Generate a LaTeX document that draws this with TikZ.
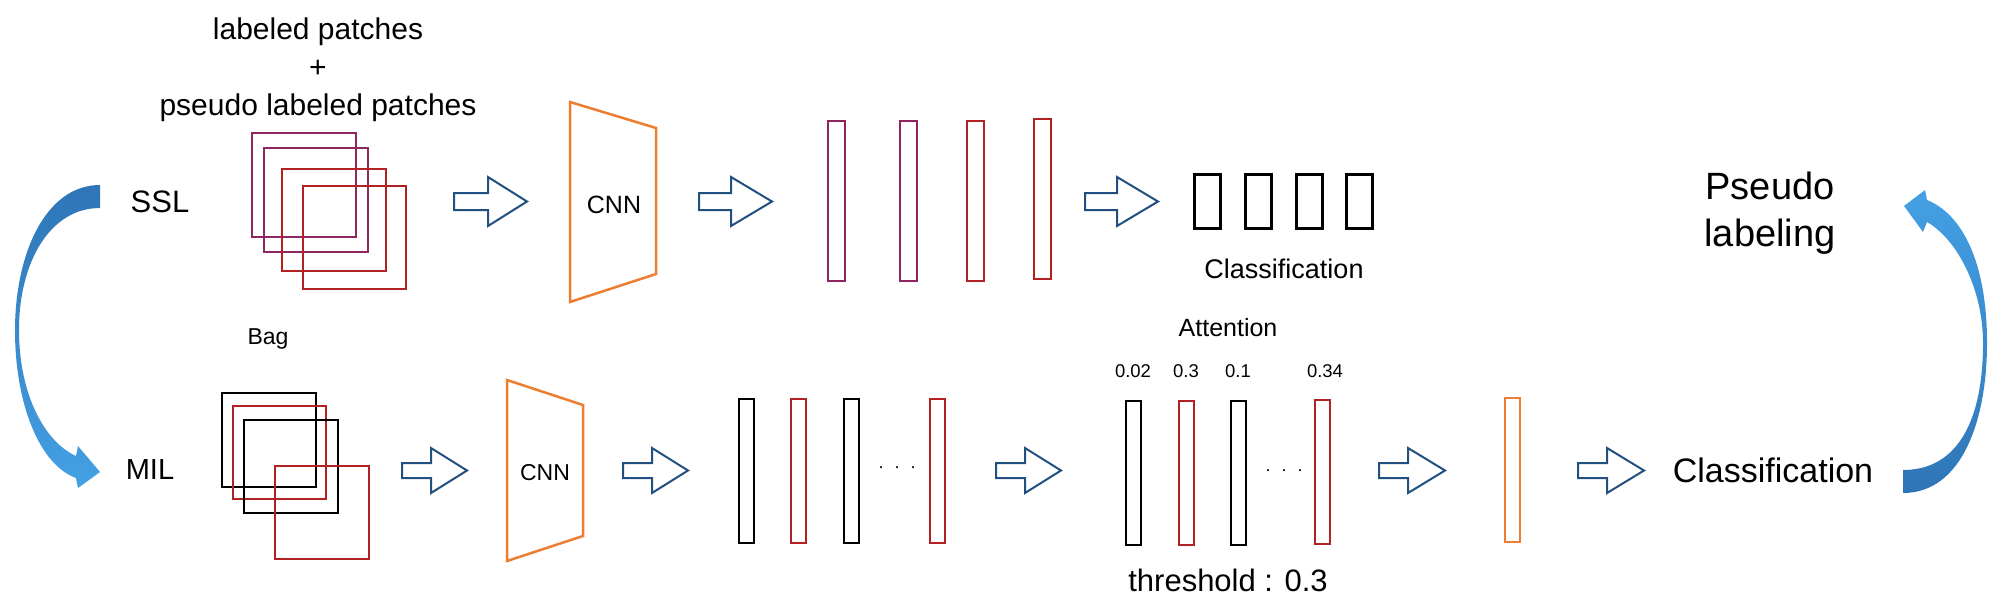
\documentclass[tikz,border=0pt]{standalone}
\usepackage{fontspec}
\setmainfont{Liberation Sans}
\definecolor{purpleR}{RGB}{143,38,96}
\definecolor{redR}{RGB}{178,34,34}
\definecolor{orangeC}{RGB}{237,125,49}
\definecolor{arrowblue}{RGB}{33,80,128}
\definecolor{cdark}{RGB}{46,117,182}
\definecolor{clight}{RGB}{68,160,228}
\newcommand{\harr}[6]{% x0, xb, xt, yc, shaft half, head half
  \draw[hollow] ({#1},{#4-#5}) -- ({#2},{#4-#5}) -- ({#2},{#4-#6}) -- ({#3},{#4})
    -- ({#2},{#4+#6}) -- ({#2},{#4+#5}) -- ({#1},{#4+#5}) -- cycle;}
\newcommand{\fs}[1]{\fontsize{#1}{#1}\selectfont}
\begin{document}
\begin{tikzpicture}[x=1pt,y=-1pt,
  hollow/.style={draw=arrowblue, line width=2pt, fill=white, line join=miter},
  bar/.style={line width=2.5pt},
  box/.style={line width=3pt, draw=black},
  cnn/.style={draw=orangeC, line width=2.5pt, line join=miter},
  txt/.style={inner sep=0pt, text=black}]
\useasboundingbox (0,0) rectangle (1999,606);

% ---------- texts ----------
\node[txt, align=center, font=\fontsize{30}{38}\selectfont] (lp) at (318,70) {labeled patches\\+\\pseudo labeled patches};
\node[txt, font=\fs{31}] (ssl) at (160,202) {SSL};
\node[txt, font=\fs{29}] (mil) at (150,470) {MIL};
\node[txt, font=\fs{23}] (bag) at (268,339) {Bag};
\node[txt, font=\fs{25}] (cnn1t) at (614,205) {CNN};
\node[txt, font=\fs{23}] (cnn2t) at (545,473) {CNN};
\node[txt, font=\fs{27}] (cls1) at (1284,269) {Classification};
\node[txt, font=\fs{25}] (att) at (1228,328) {Attention};
\node[txt, font=\fs{18.5}] (n1) at (1133,371) {0.02};
\node[txt, font=\fs{18.5}] (n2) at (1186,371) {0.3};
\node[txt, font=\fs{18.5}] (n3) at (1238,371) {0.1};
\node[txt, font=\fs{18.5}] (n4) at (1325,371) {0.34};
\node[txt, font=\fs{31}] (thr) at (1228,580) {threshold : 0.3};
\node[txt, font=\fs{34}] (cls2) at (1773,470) {Classification};
\node[txt, align=center, font=\fontsize{38}{47}\selectfont] (pl) at (1770,213) {Pseudo\\labeling};
\node[txt, font=\fs{18}] (dots1) at (897,470) {·\hspace{10pt}·\hspace{10pt}·};
\node[txt, font=\fs{18}] (dots2) at (1284,473) {·\hspace{10pt}·\hspace{10pt}·};

% ---------- SSL patches ----------
\draw[bar, purpleR] (252,133) rectangle (356,237);
\draw[bar, purpleR] (264,148) rectangle (368,252);
\draw[bar, redR] (282,169) rectangle (386,271);
\draw[bar, redR] (303,186) rectangle (406,289);

% ---------- MIL bag ----------
\draw[bar, black] (222,393) rectangle (316,487);
\draw[bar, redR] (233,406) rectangle (326,499);
\draw[bar, black] (244,420) rectangle (338,513);
\draw[bar, redR] (275,466) rectangle (369,559);

% ---------- CNNs ----------
\draw[cnn] (570,102) -- (656,128) -- (656,274) -- (570,302) -- cycle;
\draw[cnn] (507,380) -- (583,405) -- (583,536) -- (507,561) -- cycle;

% ---------- feature bars top ----------
\draw[bar, purpleR] (828,121) rectangle (845,281);
\draw[bar, purpleR] (900,121) rectangle (917,281);
\draw[bar, redR] (967,121) rectangle (984,281);
\draw[bar, redR] (1034,119) rectangle (1051,279);

% ---------- classification boxes ----------
\draw[box] (1194,174) rectangle (1220,228);
\draw[box] (1245,174) rectangle (1271,228);
\draw[box] (1296,174) rectangle (1322,228);
\draw[box] (1346,174) rectangle (1372,228);

% ---------- bottom bars ----------
\draw[bar, black] (739,399) rectangle (754,543);
\draw[bar, redR] (791,399) rectangle (806,543);
\draw[bar, black] (844,399) rectangle (859,543);
\draw[bar, redR] (930,399) rectangle (945,543);

\draw[bar, black] (1126,401) rectangle (1141,545);
\draw[bar, redR] (1179,401) rectangle (1194,545);
\draw[bar, black] (1231,401) rectangle (1246,545);
\draw[bar, redR] (1315,400) rectangle (1330,544);

\draw[bar, orangeC] (1505,398) rectangle (1520,542);

% ---------- hollow arrows ----------
\harr{454}{488}{527}{201.5}{8.5}{24.5}
\harr{699}{731}{772}{201.5}{8.5}{24.5}
\harr{1085}{1117}{1158}{201.5}{8.5}{24.5}
\harr{402}{431}{467}{470.5}{7.5}{22.5}
\harr{623}{652}{688}{470.5}{7.5}{22.5}
\harr{996}{1025}{1061}{470.5}{7.5}{22.5}
\harr{1379}{1408}{1445}{470.5}{7.5}{22.5}
\harr{1578}{1607}{1644}{470.5}{7.5}{22.5}

% ---------- curved arrows ----------
\shade[top color=cdark, bottom color=clight]
  (100,185) .. controls (45,185) and (15,255) .. (15,330)
  .. controls (15,405) and (40,465) .. (76,478)
  -- (78,488) -- (100,472) -- (78,446) -- (76,456)
  .. controls (45,442) and (19,395) .. (19,330)
  .. controls (19,262) and (50,208) .. (100,208) -- cycle;
\shade[top color=clight, bottom color=cdark]
  (1903,493) .. controls (1962,493) and (1987,420) .. (1987,343)
  .. controls (1987,262) and (1962,214) .. (1927,200)
  -- (1925,190) -- (1904,206) -- (1923,232) -- (1927,222)
  .. controls (1958,240) and (1983,290) .. (1983,343)
  .. controls (1983,420) and (1958,470) .. (1903,470) -- cycle;
\end{tikzpicture}
\end{document}
